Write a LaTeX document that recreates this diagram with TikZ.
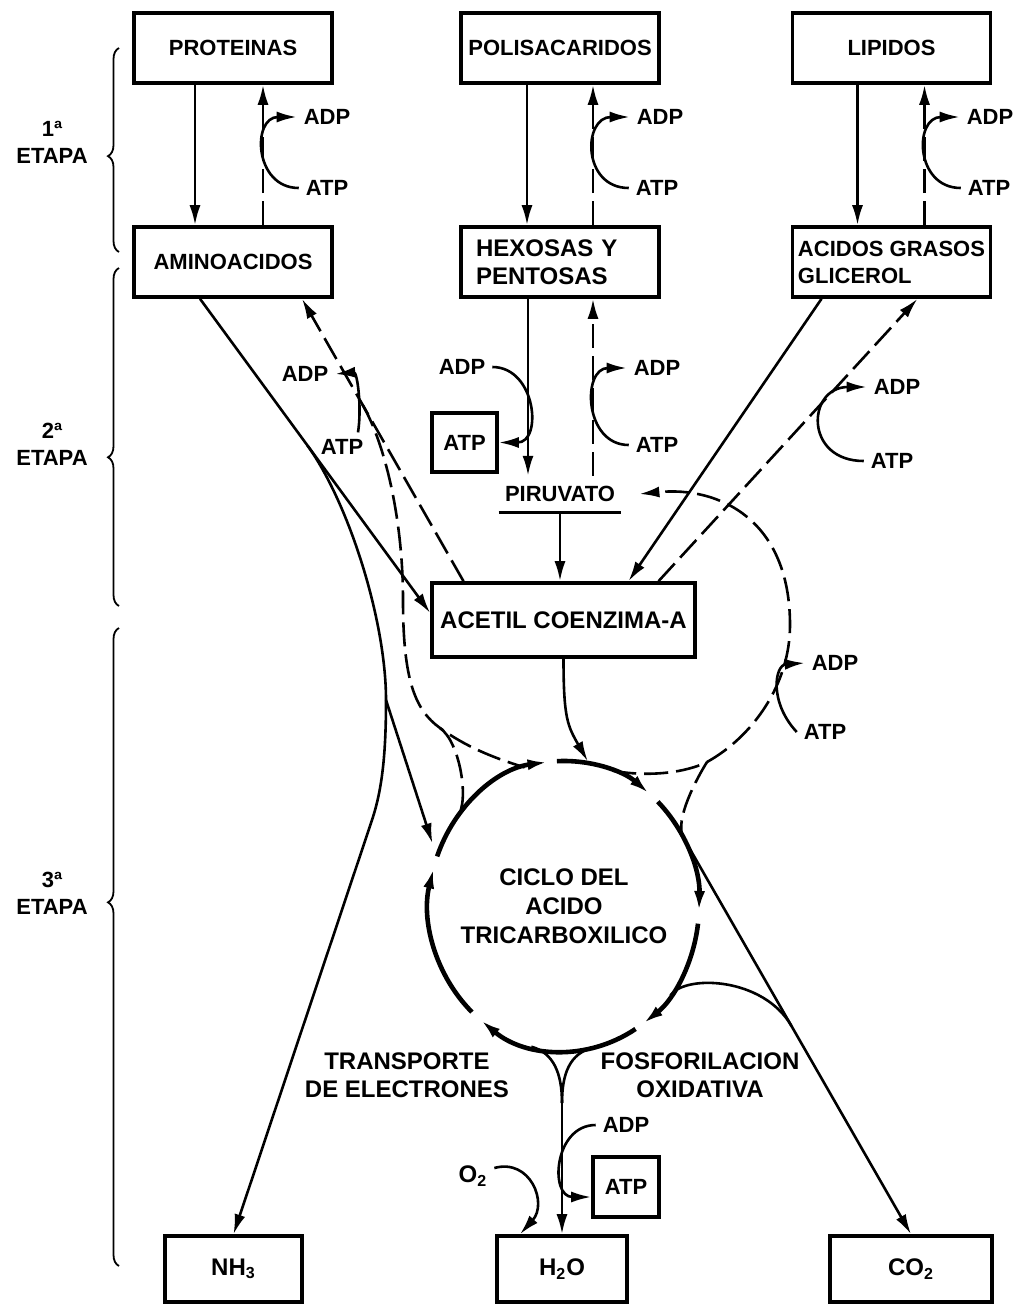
\documentclass[tikz,border=0pt]{standalone}
\usepackage{fontspec}
\setmainfont{Liberation Sans}
\usetikzlibrary{arrows.meta, calc, decorations.pathreplacing}

\begin{document}
\begin{tikzpicture}[x=0.5pt, y=-0.5pt,
        >={Latex[length=10pt,width=5.5pt]},   %Voreinstellung für Pfeilspitzen
        font=\fontsize{11}{13.5}\selectfont\bfseries,
        gross/.style={font=\fontsize{12}{14}\selectfont\bfseries},
        kasten/.style={draw, line width=1.8pt, minimum width=99pt, minimum height=35pt},
        fluss/.style={line width=1.3pt},
        strich/.style={line width=1.3pt, dash pattern=on 12pt off 4pt},
        zyklus/.style={line width=2.3pt, ->},
        etappe/.style={decorate, decoration={brace, amplitude=5.5pt}, line width=0.9pt}]
        %Bildbereich
        \useasboundingbox (0,0) rectangle (1020,1306);
        % Etappen
        \node[align=center] (et1) at (52,142) {1ª\\ETAPA};
        \node[align=center] (et2) at (52,444) {2ª\\ETAPA};
        \node[align=center] (et3) at (52,893) {3ª\\ETAPA};
        \draw[etappe, decoration={aspect=0.47}] (119,252) -- (119,48);
        \draw[etappe, decoration={aspect=0.44}] (119,606) -- (119,268);
        \draw[etappe, decoration={aspect=0.57}] (119,1266) -- (119,628);
        % Kaesten
        \node[kasten] (prot)  at (233,48)   {PROTEINAS};
        \node[kasten, inner xsep=1.5pt] (polis) at (560,48) {POLISACARIDOS};
        \node[kasten] (lip)   at (891.5,48) {LIPIDOS};
        \node[kasten] (amino) at (233,262)  {AMINOACIDOS};
        \node[kasten, gross, align=left, text width=84pt] (hex) at (560,262) {HEXOSAS Y\\PENTOSAS};
        \node[kasten, align=left, inner xsep=1.5pt] (acgr) at (891.5,262) {ACIDOS GRASOS\\GLICEROL};
        \node[inner xsep=3pt, inner ysep=5pt] (piru) at (560,494) {PIRUVATO};
        \node[kasten, gross, inner xsep=1pt, minimum width=131.5pt, minimum height=37pt] (acoa) at (563.5,620) {ACETIL COENZIMA-A};
        \node[kasten, minimum width=32.5pt, minimum height=29.5pt, inner sep=1pt] (atpk1) at (464.5,442.5) {ATP};
        \node[gross, align=center] (tca) at (564,906) {CICLO DEL\\[0.5pt]ACIDO\\[0.5pt]TRICARBOXILICO};
        \node[gross, align=center] (trans) at (407,1075) {TRANSPORTE\\DE ELECTRONES};
        \node[gross, align=center] (fosfo) at (700,1075) {FOSFORILACION\\OXIDATIVA};
        \node[kasten, minimum width=33pt, minimum height=30pt, inner sep=1pt] (atpk2) at (626,1187) {ATP};
        \node[kasten, gross, minimum width=68.5pt, minimum height=33pt] (nh3) at (233.5,1269) {NH\textsubscript{3}};
        \node[kasten, gross, minimum width=65pt, minimum height=33pt] (h2o) at (562,1269) {H\textsubscript{2}O};
        \node[kasten, gross, minimum width=81pt, minimum height=33pt] (co2) at (911,1269) {CO\textsubscript{2}};
        \node[gross] (o2) at (473,1176) {O\textsubscript{2}};
        % ADP / ATP
        \node (adp1) at (327,117) {ADP};  \node (atp1) at (327,188) {ATP};
        \node (adp2) at (660,117) {ADP};  \node (atp2) at (657,188) {ATP};
        \node (adp3) at (990,117) {ADP};  \node (atp3) at (989,188) {ATP};
        \node (adp4) at (462,367) {ADP};
        \node (adp5) at (657,368) {ADP};  \node (atp5) at (657,445) {ATP};
        \node (adp6) at (305,374) {ADP};  \node (atp6) at (342,447) {ATP};
        \node (adp7) at (897,387) {ADP};  \node (atp7) at (892,461) {ATP};
        \node (adp8) at (835,663) {ADP};  \node (atp8) at (825,732) {ATP};
        \node (adp9) at (626,1125) {ADP};
        % 1. Etappe
        \foreach \o/\u/\l/\r in {prot/amino/-19/15, polis/hex/-16.5/16.5, lip/acgr/-17/16.5}
        {
            \draw[fluss,->] ([xshift=\l pt]\o.south) -- ([xshift=\l pt]\u.north);
            \draw[strich,->] ([xshift=\r pt]\u.north) -- ([xshift=\r pt]\o.south);
        }
        \draw[fluss,->] (atp1.west) .. controls +(-45,0) and +(-45,0) .. (adp1.west);
        \draw[fluss,->] (atp2.west) .. controls +(-47,0) and +(-47,0) .. (adp2.west);
        \draw[fluss,->] (atp3.west) .. controls +(-46,0) and +(-46,0) .. (adp3.west);
        % 2. Etappe
        \draw[fluss,->] ([xshift=-16pt]hex.south) -- ([xshift=-16pt]piru.north);
        \draw[strich,->] ([xshift=16.5pt]piru.north) -- ([xshift=16.5pt]hex.south);
        \draw[fluss,->] (adp4.east) .. controls +(44,0) and +(44,0) .. (atpk1.east);
        \draw[fluss,->] (atp5.west) .. controls +(-45,0) and +(-45,0) .. (adp5.west);
        \draw[line width=1.5pt] (piru.south west) -- (piru.south east);
        \draw[fluss,->] (piru.south) -- (piru.south |- acoa.north);
        \coordinate (amL) at ([xshift=-16.5pt]amino.south);
        \coordinate (amR) at ([xshift=34.5pt]amino.south);
        \coordinate (acW) at ([yshift=3.5pt]acoa.west);
        \coordinate (acL) at ([xshift=-50pt]acoa.north);
        \draw[fluss,->] (amL) -- (acW);
        \draw[strich,->] (acL) -- (amR);
        \draw[fluss,->] ([xshift=8pt]atp6.north) .. controls +(4,-25) and +(22,-2) .. (adp6.east);
        \draw[fluss,->] ([xshift=-35pt]acgr.south) -- ([xshift=32.5pt]acoa.north);
        \draw[strich,->] ([xshift=47.5pt]acoa.north) -- ([xshift=13pt]acgr.south);
        \draw[fluss,->] (atp7.west) .. controls +(-60,0) and +(-60,0) .. (adp7.west);
        % Zyklus
        \foreach \a/\b in {-160/-97, -93/-51, -46/2, 7/54, 58/128, 133/195}
            \draw[zyklus] (tca.center) ++(\a:135 and 145) arc[start angle=\a, end angle=\b, x radius=135, y radius=145];
        \path (tca.center) ++(-107:135 and 145) coordinate (zl)
              (tca.center) ++(-142:135 and 145) coordinate (zlg)
              (tca.center) ++(-69:135 and 145) coordinate (zr)
              (tca.center) ++(-28:135 and 145) coordinate (zrg)
              (tca.center) ++(-80:137 and 147) coordinate (zac)
              (tca.center) ++(-156:144 and 154) coordinate (zein)
              (tca.center) ++(-32:135 and 145) coordinate (zco)
              (tca.center) ++(38:135 and 145) coordinate (zfo)
              (tca.center) ++(104:135 and 145) coordinate (zu1)
              (tca.center) ++(78:135 and 145) coordinate (zu2);
        \draw[fluss,->] (acoa.south) .. controls +(0,60) and +(-20,-35) .. (zac);
        % gestrichelte Schleife
        \coordinate (s0) at ($(amR)!0.374!(acL)$);
        \coordinate (g1) at (440,728);
        \coordinate (g2) at (707,762);
        \draw[strich] (s0) .. controls +(23,40) and +(0,-80) .. (403,600)
              .. controls +(0,80) and +(-25,-18) .. (g1)
              .. controls +(25,18) and +(-33,-10) .. (zl);
        \draw[strich] (g1) .. controls +(20,14) and +(12,-16) .. (zlg);
        \draw[strich,->] (zr) .. controls +(38,7) and +(-20,10) .. (g2)
              .. controls +(45,-25) and +(0,60) .. (790,625)
              .. controls +(0,-105) and +(80,-8) .. ([xshift=9pt]piru.east);
        \draw[strich] (g2) .. controls +(-10,16) and +(-9,-18) .. (zrg);
        \draw[fluss,->] (atp8.west) .. controls +(-28,-30) and +(-30,2) .. (adp8.west);
        % 3. Etappe
        \coordinate (v1) at ($(amL)!0.467!(acW)$);
        \coordinate (v2) at (386,700);
        \draw[fluss,->] (v1) .. controls +(41,57) and +(0,-80) .. (v2)
              .. controls +(0,55) and +(10,-30) .. (372,820) -- (nh3.north);
        \draw[fluss,->] (v2) -- (zein);
        \draw[fluss,->] (zco) -- (co2.north);
        \draw[fluss] (zfo) .. controls +(15,-21) and +(-28,-49) .. ($(zco)!0.486!(co2.north)$);
        \coordinate (sp) at (562,1103);
        \draw[fluss] (zu1) .. controls +(22,6) and +(0,-30) .. (sp);
        \draw[fluss] (zu2) .. controls +(-22,6) and +(0,-30) .. (sp);
        \draw[fluss,->] (sp) -- (h2o.north);
        \draw[fluss,->] (adp9.west) .. controls +(-42,0) and +(-42,0) .. ([yshift=-5pt]atpk2.west);
        \draw[fluss,->] ([yshift=4pt]o2.east) .. controls +(36,-10) and +(28,-31) .. ([xshift=-21pt]h2o.north);
    \end{tikzpicture}
\end{document}
